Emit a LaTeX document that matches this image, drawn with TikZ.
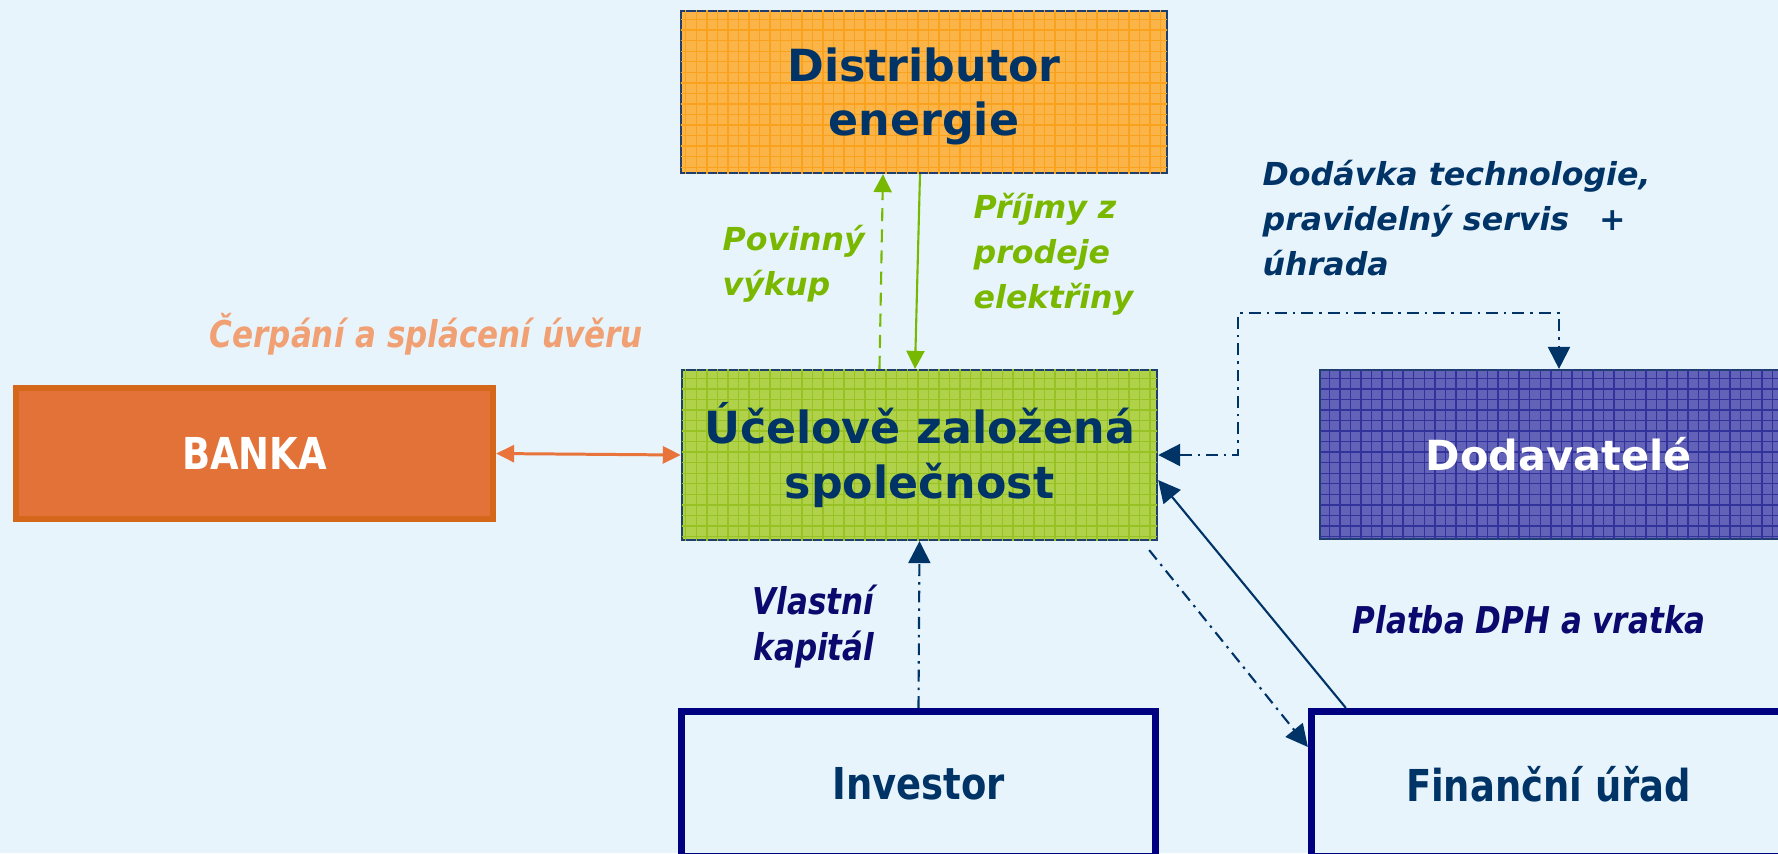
\documentclass[tikz,border=0pt]{standalone}
\usepackage{fontspec}
\setmainfont{DejaVu Sans}
\newfontfamily\narrowfont[FakeStretch=0.84]{DejaVu Sans}
\usepackage{tikz}
\usetikzlibrary{arrows.meta,patterns,calc,positioning}
\definecolor{bg}{RGB}{232,244,252}
\definecolor{boxline}{RGB}{31,63,111}
\definecolor{boxtext}{RGB}{0,51,102}
\definecolor{orfill}{RGB}{250,180,72}
\definecolor{orgrid}{RGB}{250,162,30}
\definecolor{grfill}{RGB}{176,210,74}
\definecolor{grgrid}{RGB}{152,194,36}
\definecolor{blfill}{RGB}{98,98,184}
\definecolor{blgrid}{RGB}{50,50,155}
\definecolor{bankfill}{RGB}{227,114,57}
\definecolor{bankline}{RGB}{212,103,26}
\definecolor{navybox}{RGB}{0,0,128}
\definecolor{arrgreen}{RGB}{118,185,0}
\definecolor{lblgreen}{RGB}{122,184,0}
\definecolor{salmon}{RGB}{240,160,115}
\definecolor{orangearr}{RGB}{232,116,59}
\definecolor{navyarr}{RGB}{0,51,102}
\definecolor{lblnavy}{RGB}{10,10,110}
\begin{document}
\begin{tikzpicture}[x=0.01cm,y=-0.01cm,
  box/.style={draw=boxline,line width=0.6pt,rectangle,inner sep=0pt,align=center,text=boxtext,font=\fontsize{12.6}{15.4}\selectfont\bfseries},
  framebox/.style={draw=navybox,line width=0.07cm,rectangle,inner sep=0pt,text=boxtext,font=\fontsize{12.5}{15}\selectfont\narrowfont\bfseries,minimum width=4.74cm,minimum height=1.45cm},
  lbl/.style={inner sep=0pt,align=left,font=\fontsize{9}{12.7}\selectfont\bfseries\itshape},
  nlbl/.style={inner sep=0pt,font=\fontsize{10.5}{13}\selectfont\narrowfont\bfseries\itshape},
  greenarr/.style={draw=arrgreen,line width=0.6pt,-{Triangle[length=0.18cm,width=0.18cm]}},
  navyline/.style={draw=navyarr,line width=0.6pt,-{Triangle[length=0.22cm,width=0.22cm]}},
  dashdot/.style={dash pattern=on 3.4pt off 1.7pt on 0.7pt off 1.7pt}]
\fill[bg] (0,0) rectangle (1778,853);
\useasboundingbox (0,0) rectangle (1778,853);
\clip (0,0) rectangle (1778,853);
\node[box,fill=orfill,postaction={pattern=grid,pattern color=orgrid},text depth=0pt,minimum width=4.86cm,minimum height=1.62cm] (dist) at (924,92) {Distributor\\energie};
\node[box,fill=grfill,postaction={pattern=grid,pattern color=grgrid},minimum width=4.75cm,minimum height=1.70cm] (uzs) at (919.5,455) {Účelově založená\\společnost};
\node[box,fill=blfill,postaction={pattern=grid,pattern color=blgrid},text=white,font=\fontsize{11.8}{14}\selectfont\bfseries,minimum width=4.78cm,minimum height=1.69cm] (dod) at (1559,454.5) {Dodavatelé};
\node[draw=bankline,fill=bankfill,line width=0.06cm,inner sep=0pt,text=white,font=\fontsize{12.5}{15}\selectfont\narrowfont\bfseries,minimum width=4.77cm,minimum height=1.31cm] (banka) at (254.5,453.5) {BANKA};
\node[framebox] (inv) at (918.5,784) {Investor};
\node[framebox] (fin) at (1548.5,784) {Finanční úřad};
\node[lbl,text=lblgreen,anchor=base west] (povlbl) at (722,295) {Povinný\\výkup};
\node[lbl,text=lblgreen,anchor=base west] (prilbl) at (973,308) {Příjmy z\\prodeje\\elektřiny};
\node[lbl,text=navyarr,anchor=base west] (dodlbl) at (1262,275) {Dodávka technologie,\\pravidelný servis\hspace{0.3cm}+\\úhrada};
\node[nlbl,text=salmon,anchor=base west] (cerlbl) at (209,347) {Čerpání a splácení úvěru};
\node[nlbl,text=lblnavy,anchor=base west] (plalbl) at (1352,633) {Platba DPH a vratka};
\node[nlbl,text=lblnavy,align=right,anchor=base east] (vlalbl) at (875,660) {Vlastní\\kapitál};
\coordinate (dodturn) at (1238,313);
\draw[greenarr,dash pattern=on 3.7pt off 2.3pt] ([xshift=-0.4cm]uzs.north) -- ([xshift=-0.41cm]dist.south);
\draw[greenarr] ([xshift=-0.04cm]dist.south) -- ([xshift=-0.045cm]uzs.north);
\draw[draw=orangearr,line width=0.85pt,{Triangle[length=0.18cm,width=0.17cm]}-{Triangle[length=0.18cm,width=0.17cm]}] (banka.east) -- (uzs.west);
\draw[navyline,dashdot,{Triangle[length=0.22cm,width=0.22cm]}-{Triangle[length=0.22cm,width=0.22cm]}] (uzs.east) -| (dodturn) -| (dod.north);
\draw[navyline] ([xshift=-2.025cm]fin.north) -- ([yshift=-0.25cm]uzs.east);
\draw[navyline,dashdot] ([shift={(-0.09cm,-0.09cm)}]uzs.south east) -- ([yshift=0.37cm]fin.west);
\draw[navyline,dashdot] (inv.north) -- (uzs.south);
\end{tikzpicture}
\end{document}
